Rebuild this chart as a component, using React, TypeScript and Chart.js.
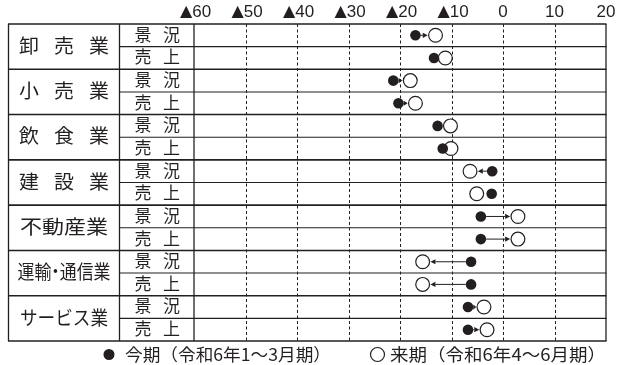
import { useEffect, useRef } from 'react';
import { Chart, registerables } from 'chart.js';

Chart.register(...registerables);

const industries = ['卸売業', '小売業', '飲食業', '建設業', '不動産業', '運輸・通信業', 'サービス業'];
const itemLabels = ['景況', '売上'];
const currentValues = [-17.0, -13.4, -21.3, -20.3, -12.7, -11.7, -2.1, -2.2, -4.3, -4.3, -6.2, -6.2, -6.8, -6.8];
const nextValues = [-13.1, -11.2, -18.0, -17.0, -10.2, -10.1, -6.4, -5.1, 2.9, 2.9, -15.6, -15.6, -3.7, -3.1];
const xTickValues = [-60, -50, -40, -30, -20, -10, 0, 10, 20];
const xTickLabels = ['▲60', '▲50', '▲40', '▲30', '▲20', '▲10', '0', '10', '20'];
const legendLabels = ['今期（令和6年1～3月期）', '来期（令和6年4～6月期）'];

const INK = '#231f20';
const TABLE_LEFT = 8.5;
const COL_DIV = 119.5;
const R_FILLED = 5.3;
const R_OPEN = 7.5;
const JP = '"Noto Sans CJK JP", "Noto Sans CJK SC", sans-serif';
const TICK_FONT = '17px "Liberation Sans", Arial, sans-serif';
const TRI_FONT = '16px "DejaVu Sans", sans-serif';

function drawFitted(ctx: any, text: string, x: number, y: number, width: number) {
  const w = ctx.measureText(text).width;
  ctx.save();
  ctx.translate(x, y);
  ctx.scale(width / w, 1);
  ctx.fillText(text, 0, 0);
  ctx.restore();
}

function drawTick(ctx: any, label: string, cx: number, cy: number) {
  const hasTri = label.startsWith('▲');
  const num = hasTri ? label.slice(1) : label;
  ctx.font = TICK_FONT;
  const numW = ctx.measureText(num).width;
  let triW = 0;
  if (hasTri) {
    ctx.font = TRI_FONT;
    triW = ctx.measureText('▲').width;
  }
  const total = triW + numW;
  let x0 = cx - total / 2 + (hasTri ? 1.5 : 0);
  ctx.textAlign = 'left';
  if (hasTri) {
    ctx.font = TRI_FONT;
    ctx.fillText('▲', x0, cy - 0.5);
    x0 += triW;
  }
  ctx.font = TICK_FONT;
  ctx.fillText(num, x0, cy);
}

const tablePlugin = {
  id: 'tablePlugin',
  beforeDatasetsDraw(chart: any) {
    const { ctx, chartArea, scales } = chart;
    const { left, right, top, bottom } = chartArea;
    const x = scales.x;
    const y = scales.y;
    ctx.save();
    ctx.strokeStyle = INK;
    ctx.lineWidth = 1;
    ctx.setLineDash([3, 2.5]);
    xTickValues.forEach((v) => {
      if (v === xTickValues[0] || v === xTickValues[xTickValues.length - 1]) return;
      const px = Math.round(x.getPixelForValue(v)) + 0.5;
      ctx.beginPath();
      ctx.moveTo(px, top);
      ctx.lineTo(px, bottom);
      ctx.stroke();
    });
    ctx.setLineDash([]);
    const nRows = industries.length * itemLabels.length;
    for (let k = 0; k <= nRows; k++) {
      const py = y.getPixelForValue(k - 0.5);
      const major = k % 2 === 0;
      ctx.lineWidth = major ? 1.6 : 1.1;
      ctx.beginPath();
      ctx.moveTo(major ? TABLE_LEFT - 0.5 : COL_DIV, py);
      ctx.lineTo(right + 0.5, py);
      ctx.stroke();
    }
    ctx.lineWidth = 1.3;
    [TABLE_LEFT, COL_DIV, left, right].forEach((px) => {
      ctx.beginPath();
      ctx.moveTo(px, top);
      ctx.lineTo(px, bottom);
      ctx.stroke();
    });
    ctx.fillStyle = INK;
    ctx.lineWidth = 1;
    currentValues.forEach((c, i) => {
      const n = nextValues[i];
      const xc = x.getPixelForValue(c);
      const xn = x.getPixelForValue(n);
      const py = y.getPixelForValue(i);
      const dir = Math.sign(xn - xc);
      const start = xc + dir * R_FILLED;
      const end = xn - dir * (R_OPEN + 0.3);
      if ((end - start) * dir < 2) return;
      const head = Math.min(5, (end - start) * dir);
      ctx.beginPath();
      ctx.moveTo(start, py);
      ctx.lineTo(end - dir * head, py);
      ctx.stroke();
      ctx.beginPath();
      ctx.moveTo(end, py);
      ctx.lineTo(end - dir * head, py - 2.6);
      ctx.lineTo(end - dir * head, py + 2.6);
      ctx.closePath();
      ctx.fill();
    });
    ctx.restore();
  },
  afterDraw(chart: any) {
    const { ctx, chartArea, scales } = chart;
    const x = scales.x;
    const y = scales.y;
    ctx.save();
    ctx.fillStyle = INK;
    ctx.textBaseline = 'middle';
    // top tick labels
    xTickValues.forEach((v, i) => {
      drawTick(ctx, xTickLabels[i], x.getPixelForValue(v), chartArea.top - 11.5);
    });
    // industry labels
    const cx = (TABLE_LEFT + COL_DIV) / 2;
    industries.forEach((name, j) => {
      const cy = y.getPixelForValue(j * 2 + 0.5) - 1;
      ctx.font = `19px ${JP}`;
      ctx.textAlign = 'center';
      if (name.length === 3) {
        for (let k = 0; k < 3; k++) {
          ctx.save();
          ctx.translate(cx + (k - 1) * 35, cy);
          ctx.scale(1.05, 1);
          ctx.fillText(name[k], 0, 0);
          ctx.restore();
        }
      } else if (name.includes('・')) {
        const chars = Array.from(name);
        const target = 93;
        const unit = target / (chars.length - 0.5);
        let px = cx - target / 2;
        chars.forEach((ch) => {
          const cw = ch === '・' ? unit / 2 : unit;
          ctx.save();
          ctx.translate(px + cw / 2, cy);
          ctx.scale(unit / 19, 1);
          ctx.fillText(ch, 0, 0);
          ctx.restore();
          px += cw;
        });
      } else {
        drawFitted(ctx, name, cx, cy, 88);
      }
    });
    // item labels
    ctx.textAlign = 'center';
    ctx.font = `17px ${JP}`;
    for (let i = 0; i < industries.length * itemLabels.length; i++) {
      const label = itemLabels[i % 2];
      const cy = y.getPixelForValue(i) - 1;
      ctx.fillText(label[0], 143, cy);
      ctx.fillText(label[1], 171.5, cy);
    }
    // legend
    const ly = chartArea.bottom + 13.5;
    ctx.font = `17px ${JP}`;
    ctx.textAlign = 'center';
    ctx.beginPath();
    ctx.arc(109, ly, 5.5, 0, Math.PI * 2);
    ctx.fill();
    drawFitted(ctx, legendLabels[0], 125 + 103, ly, 206);
    ctx.beginPath();
    ctx.arc(377.5, ly, 7, 0, Math.PI * 2);
    ctx.lineWidth = 1.2;
    ctx.strokeStyle = INK;
    ctx.stroke();
    drawFitted(ctx, legendLabels[1], 390 + 108, ly, 216);
    ctx.restore();
  },
};

export default function App() {
  const ref = useRef<HTMLCanvasElement | null>(null);
  useEffect(() => {
    if (!ref.current) return;
    const rows = currentValues.map((_, i) => i);
    const chart = new Chart(ref.current, {
      type: 'scatter',
      data: {
        datasets: [
          {
            label: legendLabels[0],
            data: rows.map((i) => ({ x: currentValues[i], y: i })),
            pointRadius: R_FILLED,
            pointBackgroundColor: INK,
            pointBorderColor: INK,
            pointBorderWidth: 0,
            showLine: false,
          },
          {
            label: legendLabels[1],
            data: rows.map((i) => ({ x: nextValues[i], y: i })),
            pointRadius: R_OPEN - 0.6,
            pointBackgroundColor: '#ffffff',
            pointBorderColor: INK,
            pointBorderWidth: 1.2,
            showLine: false,
          },
        ],
      },
      options: {
        animation: false,
        responsive: false,
        layout: { padding: { left: 194, right: 11, top: 24, bottom: 24 } },
        plugins: { legend: { display: false }, tooltip: { enabled: false } },
        scales: {
          x: { type: 'linear', min: -60, max: 20, display: false },
          y: { type: 'linear', min: -0.5, max: 13.5, reverse: true, display: false },
        },
      },
      plugins: [tablePlugin],
    });
    return () => chart.destroy();
  }, []);
  return (
    <div style={{ position: 'absolute', left: 0, top: 0, width: 617, height: 365, background: '#fff' }}>
      <canvas ref={ref} width={617} height={365} style={{ display: 'block' }} />
    </div>
  );
}
